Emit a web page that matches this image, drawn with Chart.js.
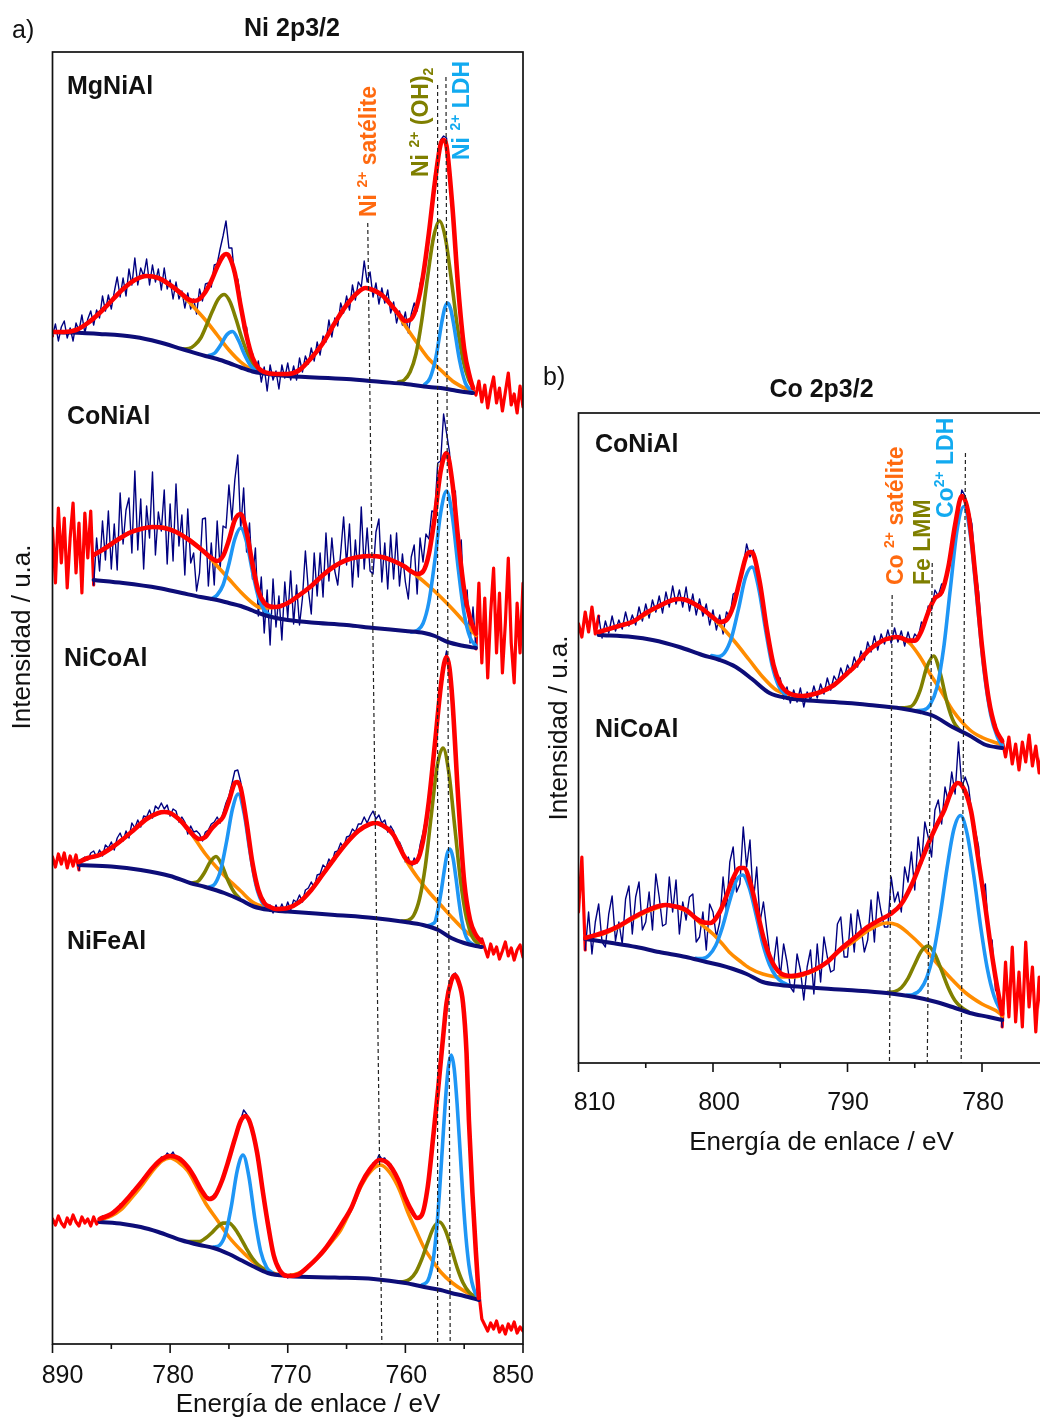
<!DOCTYPE html>
<html>
<head>
<meta charset="utf-8">
<script src="https://cdn.jsdelivr.net/npm/chart.js@4.4.0/dist/chart.umd.min.js"></script>
<style>
html, body { margin: 0; padding: 0; background: #fff; width: 1040px; height: 1427px; overflow: hidden; position: relative; }
canvas { position: absolute; }
#niChart { left: 0; top: 0; }
#coChart { left: 540px; top: 340px; }
</style>
</head>
<body>
<canvas id="niChart" width="540" height="1427"></canvas>
<canvas id="coChart" width="520" height="850"></canvas>
<script>
// ---------- shared text ----------
const AXIS_X_TITLE = 'Energía de enlace / eV';
const AXIS_Y_TITLE = 'Intensidad / u.a.';

// ---------- Ni 2p3/2 panel: axis ----------
const NI_TICKS = [790, 780, 770, 760, 750];
const NI_TICK_LABELS = ['890', '780', '770', '760', '850'];
const NI_MINOR = [785, 775, 765, 755];
const NI_SAMPLES = ['MgNiAl', 'CoNiAl', 'NiCoAl', 'NiFeAl'];

// raw spectra, 0.25 eV steps from 790 eV down to 750 eV (stacked intensity, a.u.)
const RAW_STEP = 0.25;
const NI_RAW_START = 790;

const mgNiAl_raw = [
  1007,1019,1002,1016, 1022,1005,1015,1002, 1020,1012,1028,1010, 1024,1032,1018,1033,
  1025,1047,1032,1048, 1034,1051,1066,1046, 1065,1047,1074,1058, 1085,1058,1075,1067,
  1084,1058,1078,1061, 1074,1053,1075,1054, 1063,1044,1061,1044, 1052,1035,1050,1034,
  1044,1029,1054,1042, 1059,1060,1056,1078, 1079,1094,1107,1122, 1095,1095,1065,1064,
  1043,1013,1016,990, 990,970,982,961, 976,952,978,963, 972,954,978,965,
  980,963,977,963, 985,971,987,979, 995,982,1001,988, 1007,1001,1023,1006,
  1025,1017,1040,1030, 1047,1033,1058,1043, 1061,1056,1082,1061, 1071,1046,1060,1039,
  1055,1040,1053,1030, 1041,1020,1032,1018, 1031,1010,1029,1040, 1032,1059,1070,1080,
  1116,1131,1170,1176, 1203,1207,1205,1167, 1143,1092,1060,1018, 999,975,969,953,
  948,962,941,958, 935,953,966,940, 955,932,951,970, 938,949,930,957, 936
];
const mgNiAl_fitRange = [790, 754.25];

const coNiAl_raw = [
  815,760,835,780, 825,755,805,840, 770,820,750,830, 785,832,758,805,
  772,822,783,832, 774,819,773,850, 799,833,845,790, 872,793,844,774,
  837,805,871,788, 831,812,853,779, 839,782,859,797, 828,768,834,780,
  790,752,770,824, 825,757,800,758, 822,774,817,815, 858,823,863,888,
  814,855,791,820, 764,795,727,766, 710,753,698,764, 716,747,703,761,
  725,772,719,758, 718,745,792,753, 729,790,747,790, 746,810,762,805,
  772,758,790,826, 778,819,756,803, 766,836,774,815, 772,769,811,824,
  761,800,754,808, 764,810,757,789, 761,744,786,798, 749,805,781,809,
  804,832,831,880, 882,929,910,891, 850,852,787,803, 733,753,700,736,
  694,760,680,745, 665,730,775,690, 750,670,720,785, 700,660,740,690, 760
];
const coNiAl_fitRange = [786.5, 754];

const niCoAl_raw = [
  486,476,489,479, 490,475,487,477, 488,473,484,486, 483,490,492,486,
  493,487,498,495, 501,493,505,510, 502,512,505,520, 515,523,516,527,
  526,533,525,537, 534,540,534,538, 527,534,532,521, 526,521,509,517,
  511,512,509,502, 511,513,519,521, 526,520,530,540, 547,559,572,573,
  561,543,524,504, 482,464,456,444, 443,434,438,430, 438,431,439,432,
  441,433,443,441, 448,441,453,455, 461,455,468,469, 478,475,484,479,
  491,492,500,495, 506,507,514,511, 519,519,526,520, 527,532,524,528,
  520,523,511,517, 512,499,501,494, 481,486,475,485, 480,498,510,526,
  546,573,603,631, 659,677,692,672, 645,590,547,500, 465,438,426,411,
  410,400,404,395, 386,399,389,396, 384,392,401,387, 395,383,393,398, 386
];
const niCoAl_fitRange = [787.75, 753.5];

const niFeAl_raw = [
  124,118,127,120, 116,125,119,128, 121,117,126,120, 124,117,126,119,
  123,127,124,129, 128,133,133,139, 138,144,146,152, 152,158,161,166,
  167,173,175,180, 180,186,185,190, 187,191,185,186, 180,181,175,173,
  166,163,155,153, 146,146,143,149, 151,160,165,177, 184,195,205,217,
  223,233,229,224, 211,201,184,165, 143,124,105,92, 80,75,69,68,
  65,69,66,70, 68,73,72,78, 78,83,84,90, 91,97,99,105,
  107,113,115,124, 126,134,137,146, 151,161,163,171, 173,180,180,188,
  184,185,179,179, 172,168,159,154, 144,141,132,130, 124,127,132,146,
  160,190,220,252, 280,310,341,357, 368,370,362,350, 332,282,200,140,
  90,50,24,18, 12,20,14,22, 11,17,9,19, 13,21,10,16, 12
];
const niFeAl_fitRange = [786, 753.75];

// fitted components [binding energy, intensity]
const mgNiAl_bg = [[790,1011],[786,1009],[783,1006],[781,1001],[779,994],[777,987],[776,984],[775,980],[774,975.5],[773,971.5],[772,969.5],[770,967],[765,964],[762,961],[760,959],[758,956],[757,955],[756,953],[755,951],[754.25,950]];
const mgNiAl_sat = [[790,1011],[789,1011],[788,1013],[787,1020],[786,1030],[785,1042],[784,1054],[783,1063],[782,1067],[781,1065],[780,1058],[779,1048],[778,1036],[777,1023],[776,1008],[775,993],[774,981],[773,973],[772,970],[771,969],[770,969],[769,973],[768,985],[767,1000],[766,1020],[765,1038],[764,1051],[763.4,1055],[763,1054],[762,1048],[761,1035],[760,1017],[759,1000],[758,984],[757,973],[756,962],[755,955],[754.25,951]];
const mgNiAl_oh1 = [[778.9,994],[778.4,994.4],[777.9,998],[777.4,1005],[776.9,1018],[776.4,1032],[775.9,1044],[775.4,1048.5],[774.9,1041],[774.4,1024],[773.9,1005],[773.4,989],[772.9,978],[772.4,972.4],[771.9,970]];
const mgNiAl_oh2 = [[760.6,961],[760.1,963],[759.6,971],[759.1,989],[758.6,1023],[758.1,1067],[757.6,1106],[757.1,1122],[756.6,1105],[756.1,1064],[755.6,1018],[755.1,983],[754.6,963],[754.25,956]];
const mgNiAl_ldh1 = [[776.7,987.5],[776.2,990],[775.7,998],[775.2,1008],[774.7,1011.5],[774.2,1003],[773.7,989],[773.2,978],[772.7,971.5]];
const mgNiAl_ldh2 = [[758.4,958],[757.9,965],[757.4,986],[756.9,1021],[756.65,1035],[756.4,1040],[756.15,1034],[755.9,1019],[755.4,983],[754.9,960],[754.4,952]];
const mgNiAl_env = [[790,1011],[789,1011],[788,1013],[787,1020],[786,1030],[785,1042],[784,1054],[783,1063],[782,1067],[781,1065],[780,1058],[779,1049],[778.5,1044],[778,1042],[777.5,1044],[777,1051],[776.5,1062],[776,1076],[775.5,1087],[775.25,1089],[775,1087],[774.5,1070],[774,1037],[773.5,1007],[773,985.5],[772.5,975],[772,971],[771,969],[770,969],[769,973],[768,985],[767,1000],[766,1020],[765,1038],[764,1051],[763.4,1055],[763,1054],[762,1048],[761,1035],[760.5,1028],[760,1022],[759.5,1024],[759,1038],[758.5,1067],[758,1110],[757.5,1160],[757,1199],[756.75,1203],[756.5,1197],[756,1136],[755.5,1054],[755,994],[754.5,965],[754.25,955]];

const coNiAl_bg = [[786.5,763],[784,760],[781,755],[779,750],[777.4,746],[776,743],[775,740],[774,737],[773,732.5],[772,728],[771,725],[770,723],[768,720.5],[765,718],[762.7,715],[760,712],[758.4,710],[757.5,707],[756.4,701],[755,697],[754,695]];
const coNiAl_sat = [[786.5,788],[785.5,795],[784.5,803],[783.5,810],[782.5,814],[781.5,816],[781,816],[780,814],[779,808],[778,800],[777,790],[776,777],[775,764],[774,751],[773,740],[772.5,736],[772,735],[771,736],[770,740],[769,748],[768,757],[767,768],[766,777],[765,783],[764,786],[763,787],[762,786],[761,782],[760,776],[759,767],[758,757],[757,746],[756,734],[755,721],[754,707.5]];
const coNiAl_ldh1 = [[776.5,744],[776,748],[775.5,758],[775,779],[774.5,804],[774,815],[773.5,801],[773,771.5],[772.5,746],[772,733],[771.5,727.5]];
const coNiAl_ldh2 = [[759.5,711],[759,712.5],[758.5,719.5],[758,741],[757.5,782],[757,830],[756.5,852],[756,826],[755.5,774],[755,729],[754.5,705.5],[754,697]];
const coNiAl_env = [[786.5,788],[785.5,795],[784.5,803],[783.5,810],[782.5,814],[781.5,816],[780.5,815],[779.5,811],[778.5,804],[777.5,795],[777,790],[776.5,785],[776,782],[775.5,787],[775,803],[774.5,823],[774,829],[773.5,811],[773,779],[772.5,752],[772,740],[771.5,736.5],[771,736],[770,740],[769,748],[768,757],[767,768],[766,777],[765,783],[764,786],[763,787],[762,786],[761,782],[760,776],[759.5,771.5],[759,769],[758.5,771.5],[758,789],[757.5,826.5],[757,872],[756.5,890],[756,860],[755.5,802.5],[755,753],[754.5,724.5],[754,709.5]];

const niCoAl_bg = [[787.75,478],[785,476.5],[782.5,473],[780,467],[778.3,460],[777,456],[775.4,450],[774,443],[772.9,436.5],[771.5,433],[770,431.5],[766,428],[762.7,425],[760,421],[758.5,418],[757.2,413],[756.1,405],[755,400],[754,397],[753.5,396]];
const niCoAl_sat = [[787.75,481],[787,485],[786,488],[785,495],[784,504],[783,514],[782,524],[781,530],[780.6,531],[780,530],[779,521],[778,506],[777,489],[776,475],[775,463],[774,452],[773,441],[772,436],[771,434],[770,435],[769,441],[768,453],[767,469],[766,485],[765,500],[764,512],[763,519],[762.6,520],[762,518],[761,508],[760,484],[759,466],[758,451],[757,438],[756,425],[755,413],[754,404],[753.5,400]];
const niCoAl_oh1 = [[778.1,460],[777.6,462],[777.1,470],[776.6,481],[776.1,486.5],[775.6,478],[775.1,463],[774.6,451.5],[774.1,444.5]];
const niCoAl_oh2 = [[760.3,422],[759.8,422.5],[759.3,427.5],[758.8,444],[758.3,477],[757.8,527.5],[757.3,576.5],[756.8,595],[756.3,570],[755.8,516],[755.3,461.5],[754.8,424.5],[754.3,406],[753.8,399]];
const niCoAl_ldh1 = [[776.7,456],[776.2,459],[775.7,473],[775.2,501.5],[774.7,534],[774.2,549],[773.7,529],[773.2,490.5],[772.7,458],[772.2,441],[771.7,435]];
const niCoAl_ldh2 = [[758.2,417],[757.7,419],[757.45,422],[757.2,435],[756.95,452],[756.7,472],[756.45,489],[756.2,494],[755.95,485],[755.7,465],[755.45,442],[755.2,422.5],[754.95,410],[754.7,403],[754.2,398]];
const niCoAl_env = [[787.75,481],[787,485],[786,488],[785,495],[784,504],[783,514],[782,524],[781,530],[780.5,531],[780,530],[779,521],[778.5,514],[778,507.5],[777.5,504],[777,506],[776.5,514],[776,520],[775.5,526],[775,542],[774.5,560],[774.3,561],[774,555],[773.5,521],[773,480],[772.5,453],[772,440],[771.5,436],[771,434],[770,435],[769,441],[768,453],[767,469],[766,485],[765,500],[764,512],[763,519],[762.5,520],[762,518],[761,508],[760.5,496],[760,485],[759.5,480],[759,482.5],[758.5,502],[758,542],[757.5,598],[757,655.5],[756.7,680],[756.5,686],[756.25,675],[756,642.5],[755.5,543],[755,461.5],[754.5,423],[754,408],[753.5,401]];

const niFeAl_bg = [[786,121],[784,119],[782.5,116],[781,111],[779.1,103],[777.5,98],[776.3,95],[775,89],[774,83],[773,77],[771.7,70],[770,67],[766,65.5],[762.7,64],[760,60],[758.4,56],[757,53],[756.1,50],[755,47],[753.75,43]];
const niFeAl_sat = [[786,123],[785,127],[784.2,133],[783.5,142],[782.5,156],[781.5,172],[780.7,182],[780,185],[779.3,181],[778.5,172],[778,162],[777,140],[776,123],[775,106],[774,93],[773,82],[772,74],[771,69],[770,67.5],[769,70],[768.3,76],[767,91],[766,105],[765.5,113],[764.5,137],[763.8,156],[763,171],[762.1,178],[761.3,170],[760.5,153],[759.8,131],[759,110],[758.4,95],[757.5,79],[757,71],[756,60],[755,52],[754,46],[753.75,44]];
const niFeAl_oh1 = [[778.5,101.5],[778,101.5],[777.5,101.5],[777,104.7],[776.5,109.7],[776,115.9],[775.5,119.9],[775,120],[774.5,114.4],[774,104.9],[773.5,94.2],[773,84.7],[772.5,78],[772,73.4],[771.5,70.5]];
const niFeAl_oh2 = [[760.6,61],[760.1,61.5],[759.6,64],[759.1,71],[758.6,84],[758.1,100.5],[757.6,115.3],[757.1,121],[756.6,112.8],[756.1,95],[755.6,75.4],[755.1,60.3],[754.6,51.1],[754.1,46.2],[753.75,43.5]];
const niFeAl_ldh1 = [[776.3,96],[775.8,97.7],[775.3,108.7],[774.8,136.5],[774.3,172.2],[773.8,188],[773.3,166.2],[772.8,124.5],[772.3,91.7],[771.8,75.7],[771.3,70]];
const niFeAl_ldh2 = [[758.6,58],[758.1,62.2],[757.85,70.7],[757.6,86.1],[757.35,112.8],[757.1,150.8],[756.85,196.4],[756.6,241.9],[756.35,275.5],[756.1,288],[755.85,274.3],[755.6,238.9],[755.35,192.4],[755.1,145.1],[754.85,105.9],[754.6,78.1],[754.35,61],[754.1,51.2],[753.75,44]];
const niFeAl_env = [[786,124],[785,129],[784.2,137],[783.5,146],[782.5,160],[781.5,175],[780.7,184],[780,187],[779.3,185],[778.5,176],[778,167],[777.3,152],[776.7,144],[776.2,147],[775.6,162],[775.1,180],[774.5,204],[774,222],[773.6,227],[773.2,220],[772.6,190],[772.1,150],[771.7,120],[771.2,88],[770.7,73],[770,67],[769.2,68],[768.3,76],[767.5,85],[766.9,93],[766,108],[765.2,123],[764.6,135],[763.8,158],[763,174],[762.2,183],[761.5,180],[760.6,163],[760,145],[759.5,133],[759,125],[758.6,128],[758.1,156],[757.6,210],[757.2,256],[756.8,305],[756.5,340],[756.1,362],[755.8,368],[755.5,362],[755.1,340],[754.8,290],[754.6,223],[754.3,150],[754,90],[753.75,45]];

// ---------- Co 2p3/2 panel ----------
const CO_TICKS = [810, 800, 790, 780];
const CO_TICK_LABELS = ['810', '800', '790', '780'];
const CO_MINOR = [805, 795, 785, 775];
const CO_SAMPLES = ['CoNiAl', 'NiCoAl'];
const CO_RAW_START = 810;

const coNiAlB_raw = [
  438,425,450,430, 455,428,446,424, 441,429,446,431, 442,433,450,436,
  447,437,455,441, 458,444,462,450, 466,449,470,455, 476,458,472,455,
  475,451,468,447, 463,446,458,437, 452,432,447,428, 450,445,468,470,
  486,496,518,505, 512,494,483,452, 440,410,402,380, 384,363,375,359,
  372,360,374,355, 370,362,376,364, 378,368,384,372, 386,380,394,384,
  397,390,405,395, 411,402,420,410, 426,412,428,418, 432,419,434,420,
  431,416,430,418, 428,424,440,437, 456,452,472,466, 478,478,500,508,
  540,550,572,566, 552,538,496,470, 424,392,368,344, 338,324,322,305,
  325,298,318,292, 320,300,327,296, 316,289,312,295, 308
];
const coNiAlB_fitRange = [808.5, 778.5];

const niCoAlB_raw = [
  150,205,112,150, 108,140,158,120, 115,148,166,121, 140,118,163,176,
  128,165,180,132, 140,170,132,188, 165,136,138,185, 150,182,128,160,
  142,165,168,120, 125,150,112,158, 150,125,140,185, 150,200,215,170,
  178,235,195,222, 160,195,140,160, 132,105,98,125, 85,118,100,75,
  70,108,92,62, 95,112,68,118, 80,125,105,90, 92,138,145,105,
  105,148,110,152, 135,110,122,162, 120,170,150,135, 135,185,160,170,
  150,195,180,210, 172,225,198,240, 225,205,252,262, 238,275,260,290,
  268,320,275,285, 275,248,232,215, 170,178,125,122, 72,68,35,100,
  45,115,40,90, 35,120,55,95, 30,85,40,100, 50
];
const niCoAlB_fitRange = [809.5, 778.5];

const coNiAlB_bg = [[808.5,427],[806,425],[804.5,422],[802.5,415],[800.8,407],[799.5,402],[798.3,395],[797.1,383],[795.8,369],[794.5,364],[793.3,362],[790,359],[788.4,357],[786,353.5],[784.6,350],[783.6,346],[782.2,335],[781,327],[779.7,317],[778.5,314]];
const coNiAlB_sat = [[808.5,430],[807,436],[805.7,442],[804.5,452],[803.5,459],[802.7,463],[802,462],[801,455],[800,444],[799,430],[798.3,419],[797.3,402],[796.3,385],[795.3,372],[794.5,368],[793.3,366],[792,370],[790.8,379],[789.5,395],[788.4,412],[787.3,422],[786.4,425],[785.4,419],[784.6,405],[783.9,389],[783,370],[782.2,352],[780.9,332],[779.9,324],[778.9,319],[778.5,317]];
const coNiAlB_ldh1 = [[800.1,406.4],[799.6,405.4],[799.1,410],[798.6,425.4],[798.1,453.4],[797.6,484],[797.1,495],[796.6,473.5],[796.1,432.9],[795.6,396.4],[795.1,375.5],[794.6,367.4]];
const coNiAlB_fe = [[786.1,354],[785.6,354.5],[785.1,357.5],[784.6,371.6],[784.1,395],[783.6,406],[783.1,388.5],[782.6,359.6],[782.1,340],[781.6,331]];
const coNiAlB_ldh2 = [[784.85,351.5],[784.35,352],[783.85,357.4],[783.35,374.6],[782.85,413.9],[782.35,473.7],[781.85,532.4],[781.35,555.5],[780.85,525.4],[780.35,459.2],[779.85,391.9],[779.35,347.1],[778.85,324.9],[778.5,316.5]];
const coNiAlB_env = [[808.5,430],[807,436],[806,440],[805,449],[804,456],[803,462],[802.5,463],[802,462],[801,455],[800.5,450],[800,444.6],[799.5,440],[799,442],[798.5,455.4],[798,482],[797.5,507],[797.2,510],[797,508],[796.5,478],[796,433],[795.5,397],[795,378],[794.5,370],[794,367],[793.3,366],[792.5,368],[792,370],[791,377],[790,389],[789.5,395],[789,403],[788.4,412],[787.8,418],[787.3,422],[786.8,424],[786.4,425],[786,424],[785.5,421.5],[785,421.4],[784.5,431],[784,449.7],[783.5,463.8],[783,469.6],[782.5,495],[782,537],[781.5,566],[781,547.6],[780.5,487.5],[780,415.8],[779.5,362.8],[779,333.8],[778.5,321]];

const niCoAlB_bg = [[809.5,123],[807.5,119],[805.7,115],[804,110],[802,105],[800.5,100],[799.5,97],[798.5,93],[797.5,88],[796.3,80],[795,77],[793.3,75],[790,72],[787.1,69],[785,65],[783.4,60],[782,54],[780.9,49],[779.5,45],[778.5,42]];
const niCoAlB_sat = [[809.5,124],[808,129],[807,135],[806,143],[805,150],[804,155],[803.5,157],[803,156],[802,151],[801.5,146],[800.8,137],[800,128],[799.3,118],[798.8,110],[798,101],[797.3,94],[796.3,88],[795,85],[794,85],[793.3,87],[792,95],[790.8,109],[789.5,121],[788.4,132],[787.1,139],[786.3,137],[785.5,129],[784.4,115],[783.3,98],[782.2,82],[781.2,69],[780,58],[778.7,49],[778.5,46]];
const niCoAlB_ldh1 = [[801.3,103.6],[800.8,103.4],[800.3,106.8],[799.8,116.5],[799.3,134.8],[798.8,159.2],[798.3,180.5],[797.8,187],[797.3,174],[796.8,147.2],[796.3,118.3],[795.8,97.5],[795.3,85.3],[794.8,79.4],[794.3,76.6]];
const niCoAlB_fe = [[787,69.6],[786.5,70.4],[786,74.3],[785.5,83.6],[785,97.8],[784.5,111.1],[784,116],[783.5,107.6],[783,91.3],[782.5,74.1],[782,61.3],[781.5,54.4],[781,50.1]];
const niCoAlB_ldh2 = [[785.6,66.7],[785.1,67.7],[784.6,72.1],[784.1,84.7],[783.6,109.1],[783.1,147.8],[782.6,193.9],[782.1,232.3],[781.6,246.5],[781.1,227.8],[780.6,185.4],[780.1,135.3],[779.6,93.1],[779.1,65.7],[778.6,51.1],[778.5,49]];
const niCoAlB_env = [[809.5,124],[808,130],[807,136],[806,144],[805,151],[804,156],[803.5,157],[803,156],[802,152],[801.2,143],[800.8,140],[800.2,139],[799.5,150],[799,166],[798.5,184],[798,194],[797.7,194],[797.2,178],[796.7,150],[796.2,122],[795.6,100],[795,89],[794.2,86],[793.3,88],[792.5,92],[791.5,100],[790.5,113],[789.5,124],[788.5,135],[787.6,142],[786.8,148],[786,158],[785.2,178],[784.6,198],[784,218],[783.4,236],[782.8,252],[782.3,270],[781.8,279],[781.3,272],[780.8,250],[780.3,205],[779.8,160],[779.4,120],[779,85],[778.6,55],[778.5,48]];

// ---------- styling ----------
const C_RAW = '#000080';
const C_BG = '#0d0d78';
const C_FIT = '#ff0000';
const C_SAT = '#ff8c00';
const C_OH = '#808000';
const C_LDH = '#1e96f5';
const FONT = '"Liberation Sans", Arial, Helvetica, sans-serif';

function pts(pairs) { return pairs.map(p => ({ x: p[0], y: p[1] })); }

function rawSets(start, values, range) {
  const hi = range[0], lo = range[1];
  const inside = [], outside = [];
  values.forEach((v, i) => {
    const e = Math.round((start - i * RAW_STEP) * 100) / 100;
    const inFit = e <= hi + 1e-6 && e >= lo - 1e-6;
    const edge = Math.abs(e - hi) < 1e-6 || Math.abs(e - lo) < 1e-6;
    inside.push({ x: e, y: inFit ? v : null });
    outside.push({ x: e, y: (!inFit || edge) ? v : null });
  });
  return [
    { data: inside, borderColor: C_RAW, borderWidth: 1.4, tension: 0, order: 6 },
    { data: outside, borderColor: C_FIT, borderWidth: 3.2, tension: 0, order: 7 }
  ];
}

function curve(pairs, color, width, order) {
  return { data: pts(pairs), borderColor: color, borderWidth: width, cubicInterpolationMode: 'monotone', order: order };
}

function spectrum(start, raw, range, bg, sat, ohList, ldhList, env) {
  const sets = rawSets(start, raw, range);
  sets.push(curve(sat, C_SAT, 3.6, 5));
  ohList.forEach(c => sets.push(curve(c, C_OH, 3.6, 4)));
  ldhList.forEach(c => sets.push(curve(c, C_LDH, 3.6, 3)));
  sets.push(curve(bg, C_BG, 4, 2));
  sets.push(curve(env, C_FIT, 4.6, 1));
  return sets;
}

function drawRich(ctx, x, y, parts, color, rotated) {
  ctx.save();
  ctx.translate(x, y);
  if (rotated) ctx.rotate(-Math.PI / 2);
  ctx.fillStyle = color;
  ctx.textBaseline = 'alphabetic';
  ctx.textAlign = 'left';
  let cx = 0;
  parts.forEach(p => {
    ctx.font = (p.bold === false ? '' : 'bold ') + p.size + 'px ' + FONT;
    ctx.fillText(p.t, cx, -(p.rise || 0));
    cx += ctx.measureText(p.t).width;
  });
  ctx.restore();
}

const decorPlugin = {
  id: 'decor',
  afterDatasetsDraw(chart, args, o) {
    const ctx = chart.ctx, a = chart.chartArea;
    const xs = chart.scales.x, ys = chart.scales.y;
    ctx.save();
    // dashed guide lines
    ctx.strokeStyle = '#222';
    ctx.lineWidth = 1.2;
    ctx.setLineDash([4, 3]);
    o.guides.forEach(g => {
      ctx.beginPath();
      ctx.moveTo(xs.getPixelForValue(g[0][0]), ys.getPixelForValue(g[0][1]));
      ctx.lineTo(xs.getPixelForValue(g[1][0]), ys.getPixelForValue(g[1][1]));
      ctx.stroke();
    });
    ctx.setLineDash([]);
    // frame
    ctx.strokeStyle = '#111';
    ctx.lineWidth = 1.7;
    ctx.strokeRect(a.left, a.top, a.right - a.left, a.bottom - a.top);
    // ticks
    ctx.lineWidth = 1.6;
    o.major.forEach(v => {
      const px = xs.getPixelForValue(v);
      ctx.beginPath(); ctx.moveTo(px, a.bottom); ctx.lineTo(px, a.bottom + 9); ctx.stroke();
    });
    o.minor.forEach(v => {
      const px = xs.getPixelForValue(v);
      ctx.beginPath(); ctx.moveTo(px, a.bottom); ctx.lineTo(px, a.bottom + 5); ctx.stroke();
    });
    // tick labels
    ctx.fillStyle = '#111';
    ctx.font = '25px ' + FONT;
    ctx.textAlign = 'center';
    ctx.textBaseline = 'alphabetic';
    o.major.forEach((v, i) => {
      ctx.fillText(o.tickLabels[i], xs.getPixelForValue(v) + o.labelShift[i], o.tickBaseline);
    });
    // axis titles
    ctx.font = '26px ' + FONT;
    ctx.fillText(AXIS_X_TITLE, o.xTitle[0], o.xTitle[1]);
    ctx.save();
    ctx.translate(o.yTitle[0], o.yTitle[1]);
    ctx.rotate(-Math.PI / 2);
    ctx.fillText(AXIS_Y_TITLE, 0, 0);
    ctx.restore();
    // panel title and letter
    ctx.font = 'bold 25px ' + FONT;
    ctx.fillText(o.title[0], o.title[1], o.title[2]);
    ctx.textAlign = 'left';
    ctx.font = '25px ' + FONT;
    ctx.fillText(o.letter[0], o.letter[1], o.letter[2]);
    // sample names
    ctx.font = 'bold 25px ' + FONT;
    o.samples.forEach(s => ctx.fillText(s[0], s[1], s[2]));
    // peak labels
    o.peakLabels.forEach(l => {
      drawRich(ctx, xs.getPixelForValue(l.at[0]), ys.getPixelForValue(l.at[1]), l.parts, l.color, true);
    });
    ctx.restore();
  }
};

function makeChart(id, xMin, xMax, yMin, yMax, padding, datasets, decor) {
  return new Chart(document.getElementById(id), {
    type: 'line',
    data: { datasets: datasets },
    options: {
      responsive: false,
      animation: false,
      devicePixelRatio: 1,
      events: [],
      layout: { padding: padding },
      scales: {
        x: { type: 'linear', reverse: true, min: xMin, max: xMax, display: false },
        y: { type: 'linear', min: yMin, max: yMax, display: false }
      },
      elements: { point: { radius: 0 }, line: { fill: false, borderCapStyle: 'round', borderJoinStyle: 'round' } },
      spanGaps: false,
      plugins: { legend: { display: false }, tooltip: { enabled: false }, decor: decor }
    },
    plugins: [decorPlugin]
  });
}

const SUP = 14, BIG = 23;

// Ni 2p3/2
makeChart('niChart', 750, 790, -1, 1291,
  { left: 52.5, right: 17, top: 52, bottom: 83 },
  [].concat(
    spectrum(NI_RAW_START, mgNiAl_raw, mgNiAl_fitRange, mgNiAl_bg, mgNiAl_sat, [mgNiAl_oh1, mgNiAl_oh2], [mgNiAl_ldh1, mgNiAl_ldh2], mgNiAl_env),
    spectrum(NI_RAW_START, coNiAl_raw, coNiAl_fitRange, coNiAl_bg, coNiAl_sat, [], [coNiAl_ldh1, coNiAl_ldh2], coNiAl_env),
    spectrum(NI_RAW_START, niCoAl_raw, niCoAl_fitRange, niCoAl_bg, niCoAl_sat, [niCoAl_oh1, niCoAl_oh2], [niCoAl_ldh1, niCoAl_ldh2], niCoAl_env),
    spectrum(NI_RAW_START, niFeAl_raw, niFeAl_fitRange, niFeAl_bg, niFeAl_sat, [niFeAl_oh1, niFeAl_oh2], [niFeAl_ldh1, niFeAl_ldh2], niFeAl_env)
  ),
  {
    major: NI_TICKS, minor: NI_MINOR, tickLabels: NI_TICK_LABELS,
    labelShift: [10, 3, 3, 1, -10], tickBaseline: 1383,
    xTitle: [308, 1412], yTitle: [30, 637],
    title: ['Ni 2p3/2', 292, 36], letter: ['a)', 12, 38],
    samples: [[NI_SAMPLES[0], 67, 94], [NI_SAMPLES[1], 67, 424], [NI_SAMPLES[2], 64, 666], [NI_SAMPLES[3], 67, 949]],
    guides: [[[763.2, 1120], [762.0, -1]], [[757.26, 1258], [757.26, -1]], [[756.55, 1266], [756.19, -1]]],
    peakLabels: [
      { at: [762.51, 1126], color: '#ff6a10', parts: [{ t: 'Ni ', size: BIG }, { t: '2+', size: SUP, rise: 9 }, { t: ' satélite', size: BIG }] },
      { at: [758.09, 1166], color: '#7f7f00', parts: [{ t: 'Ni ', size: BIG }, { t: '2+', size: SUP, rise: 9 }, { t: ' (OH)', size: BIG }, { t: '2', size: SUP, rise: -5 }] },
      { at: [754.60, 1183], color: '#12aaf0', parts: [{ t: 'Ni ', size: BIG }, { t: '2+', size: SUP, rise: 9 }, { t: ' LDH', size: BIG }] }
    ]
  }
);

// Co 2p3/2
makeChart('coChart', 775, 810, -1, 649,
  { left: 38.5, right: 10.75, top: 73, bottom: 127 },
  [].concat(
    spectrum(CO_RAW_START, coNiAlB_raw, coNiAlB_fitRange, coNiAlB_bg, coNiAlB_sat, [coNiAlB_fe], [coNiAlB_ldh1, coNiAlB_ldh2], coNiAlB_env),
    spectrum(CO_RAW_START, niCoAlB_raw, niCoAlB_fitRange, niCoAlB_bg, niCoAlB_sat, [niCoAlB_fe], [niCoAlB_ldh1, niCoAlB_ldh2], niCoAlB_env)
  ),
  {
    major: CO_TICKS, minor: CO_MINOR, tickLabels: CO_TICK_LABELS,
    labelShift: [16, 6, 0.5, 1], tickBaseline: 770,
    xTitle: [281.5, 810], yTitle: [27, 388],
    title: ['Co 2p3/2', 281.5, 57], letter: ['b)', 3, 45],
    samples: [[CO_SAMPLES[0], 55, 112], [CO_SAMPLES[1], 55, 397]],
    guides: [[[786.68, 467], [786.88, -1]], [[783.70, 499], [784.07, -1]], [[781.23, 609], [781.55, -1]]],
    peakLabels: [
      { at: [785.91, 477], color: '#ff6a10', parts: [{ t: 'Co ', size: BIG }, { t: '2+', size: SUP, rise: 9 }, { t: ' satélite', size: BIG }] },
      { at: [783.90, 477], color: '#7f7f00', parts: [{ t: 'Fe LMM', size: BIG }] },
      { at: [782.19, 544], color: '#12aaf0', parts: [{ t: 'Co', size: BIG }, { t: '2+', size: SUP, rise: 9 }, { t: ' LDH', size: BIG }] }
    ]
  }
);
</script>
</body>
</html>
